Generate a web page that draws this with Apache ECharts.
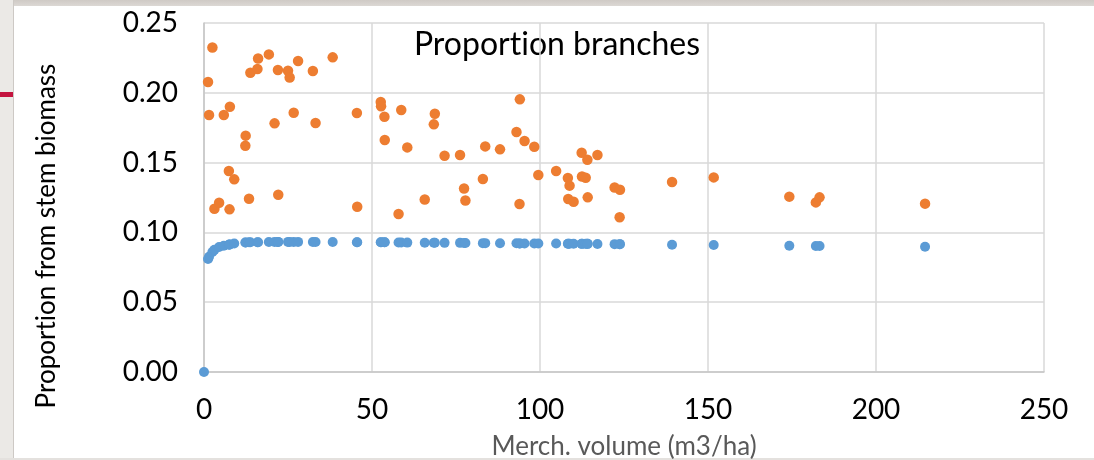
<!DOCTYPE html>
<html>
<head>
<meta charset="utf-8">
<script src="https://cdn.jsdelivr.net/npm/echarts@6/dist/echarts.min.js"></script>
<style>
  html, body { margin: 0; padding: 0; background: #ffffff; }
  #wrap { position: relative; width: 1094px; height: 460px; overflow: hidden; background: #ffffff; }
  .frame-top { position: absolute; left: 0; top: 0; width: 1094px; height: 6px; background: linear-gradient(#cfcac5, #dcd8d4); }
  .frame-left { position: absolute; left: 0; top: 0; width: 13px; height: 460px; background: #ebe9e6; border-right: 1px solid #cdc9c5; }
  .frame-bottom { position: absolute; left: 0; top: 458px; width: 1094px; height: 2px; background: #e4e1de; }
  .accent { position: absolute; left: 0; top: 92px; width: 13px; height: 5px; background: #c4143f; }
  #chart { position: absolute; left: 0; top: 0; width: 1094px; height: 460px; }
</style>
</head>
<body>
<div id="wrap">
  <div class="frame-top"></div>
  <div class="frame-left"></div>
  <div class="frame-bottom"></div>
  <div class="accent"></div>
  <div id="chart"></div>
</div>
<script>
// Merchantable volume (m3/ha) of each plot
const volume = [
  1.2, 1.5, 2.5, 3.1, 4.5, 5.9, 7.4, 7.6, 7.7, 9.0,
  12.3, 12.4, 13.4, 13.8, 15.9, 16.1, 19.3, 21.0, 22.0, 22.1,
  25.0, 25.5, 26.7, 28.0, 32.4, 33.2, 38.3, 45.5, 45.6,
  52.6, 52.7, 53.7, 53.8, 57.9, 58.7, 60.5, 65.7, 68.4, 68.7,
  71.6, 76.2, 77.4, 77.8, 83.0, 83.7, 88.1, 93.0, 93.9, 94.0,
  95.4, 98.3, 99.5, 104.8, 108.3, 108.4, 108.8, 110.0, 112.4, 112.5,
  113.6, 114.1, 114.2, 117.1, 122.2, 123.7, 123.8, 139.3, 151.7, 174.2,
  182.1, 183.2, 214.6
];

// Branch biomass as a proportion of stem biomass, per plot
const branchProportion = [
  0.2077, 0.1841, 0.2325, 0.1170, 0.1213, 0.1841, 0.1440, 0.1165, 0.1900, 0.1380,
  0.1621, 0.1693, 0.1241, 0.2144, 0.2170, 0.2246, 0.2275, 0.1781, 0.2163, 0.1270,
  0.2158, 0.2110, 0.1857, 0.2228, 0.2156, 0.1784, 0.2254, 0.1855, 0.1184,
  0.1934, 0.1903, 0.1829, 0.1662, 0.1132, 0.1877, 0.1609, 0.1236, 0.1774, 0.1850,
  0.1549, 0.1554, 0.1315, 0.1229, 0.1382, 0.1616, 0.1595, 0.1719, 0.1203, 0.1953,
  0.1655, 0.1614, 0.1411, 0.1440, 0.1390, 0.1239, 0.1335, 0.1220, 0.1571, 0.1401,
  0.1392, 0.1521, 0.1251, 0.1554, 0.1322, 0.1108, 0.1306, 0.1361, 0.1394, 0.1256,
  0.1215, 0.1251, 0.1206
];

// Second set: the smooth proportion, starting from the origin
const fitVolume = [0].concat(volume);
const fitProportion = [
  0.0000,
  0.0810, 0.0825, 0.0860, 0.0875, 0.0895, 0.0905, 0.0912, 0.0913, 0.0914, 0.0920,
  0.0928, 0.0928, 0.0929, 0.0929, 0.0930, 0.0930, 0.0931, 0.0932, 0.0932, 0.0932,
  0.0932, 0.0932, 0.0932, 0.0932, 0.0931, 0.0931, 0.0931, 0.0930, 0.0930,
  0.0929, 0.0929, 0.0929, 0.0929, 0.0928, 0.0928, 0.0927, 0.0926, 0.0926, 0.0926,
  0.0925, 0.0925, 0.0924, 0.0924, 0.0923, 0.0923, 0.0922, 0.0922, 0.0921, 0.0921,
  0.0921, 0.0921, 0.0920, 0.0920, 0.0919, 0.0919, 0.0919, 0.0919, 0.0918, 0.0918,
  0.0918, 0.0918, 0.0918, 0.0917, 0.0916, 0.0916, 0.0916, 0.0912, 0.0910, 0.0905,
  0.0903, 0.0903, 0.0897
];

const xTicks = { min: 0, max: 250, step: 50 };
const yTicks = { min: 0, max: 0.25, step: 0.05 };

// "Proportion" is split into two rich-text runs between "t" and "i" so no ligature forms
const chartTitle = '{w|Proport}{w|ion branches}';
const xName = 'Merch. volume (m3/ha)';
const yName = '{w|Proport}{w|ion from stem biomass}';

const FONT = 'Lato, "Open Sans", sans-serif';

const chart = echarts.init(document.getElementById('chart'), null, { renderer: 'canvas' });

const pairs = (xs, ys) => xs.map((x, i) => [x, ys[i]]);

function richLabel(text, size) {
  return {
    text: text, fill: '#000000', fontSize: size, fontFamily: FONT,
    textAlign: 'center', textVerticalAlign: 'middle',
    rich: { w: { fontSize: size, fontFamily: FONT, fill: '#000000' } }
  };
}

chart.setOption({
  backgroundColor: 'transparent',
  animation: false,
  grid: { left: 204, right: 50, top: 23, bottom: 88, containLabel: false, outerBoundsMode: 'none' },
  xAxis: {
    type: 'value',
    min: xTicks.min, max: xTicks.max, interval: xTicks.step,
    name: xName,
    nameLocation: 'middle',
    nameGap: 62,
    nameTextStyle: { color: '#595959', fontSize: 26, fontFamily: FONT },
    axisLine: { show: true, lineStyle: { color: '#c6c6c6', width: 1.5 } },
    axisTick: { show: false },
    axisLabel: { color: '#000000', fontSize: 28, fontFamily: FONT, margin: 24 },
    splitLine: { show: true, lineStyle: { color: '#d9d9d9', width: 1.5 } }
  },
  yAxis: {
    type: 'value',
    min: yTicks.min, max: yTicks.max, interval: yTicks.step,
    axisLine: { show: true, lineStyle: { color: '#c6c6c6', width: 1.5 } },
    axisTick: { show: false },
    axisLabel: {
      color: '#000000', fontSize: 28, fontFamily: FONT, margin: 26,
      formatter: v => v.toFixed(2)
    },
    splitLine: { show: true, lineStyle: { color: '#d9d9d9', width: 1.5 } }
  },
  graphic: [
    { type: 'text', x: 557, y: 45, style: richLabel(chartTitle, 32) },
    { type: 'text', x: 47, y: 236, rotation: Math.PI / 2, style: richLabel(yName, 26) }
  ],
  series: [
    {
      name: 'fit',
      type: 'scatter',
      symbol: 'circle',
      symbolSize: 10,
      itemStyle: { color: '#5b9bd5', opacity: 1 },
      data: pairs(fitVolume, fitProportion),
      z: 3
    },
    {
      name: 'branches',
      type: 'scatter',
      symbol: 'circle',
      symbolSize: 10.5,
      itemStyle: { color: '#ed7d31', opacity: 1 },
      data: pairs(volume, branchProportion),
      z: 4
    }
  ]
});
</script>
</body>
</html>
